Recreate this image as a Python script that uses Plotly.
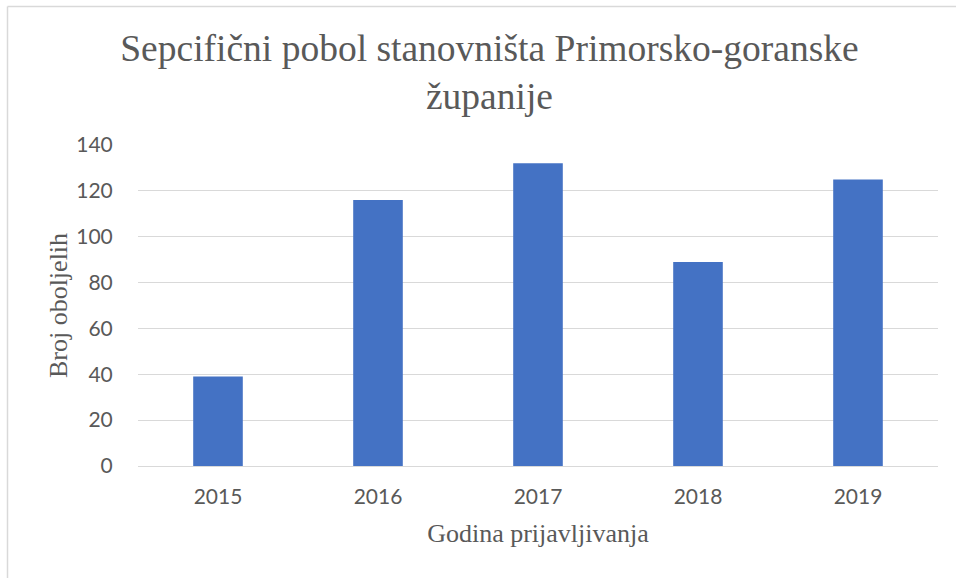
import plotly.graph_objects as go

years = ["2015", "2016", "2017", "2018", "2019"]
cases = [39, 116, 132, 89, 125]
y_ticks = [0, 20, 40, 60, 80, 100, 120, 140]

title_text = "Sepcifični pobol stanovništa Primorsko-goranske<br>županije"
x_title = "Godina prijavljivanja"
y_title = "Broj oboljelih"

fig = go.Figure()
fig.add_trace(go.Bar(x=years, y=cases, marker=dict(color="#4472C4", line=dict(width=0)),
                     hoverinfo="x+y"))

W, H = 956, 578
L, R, T, B = 138, 18, 145, 112

fig.update_layout(
    width=W, height=H,
    margin=dict(l=L, r=R, t=T, b=B),
    paper_bgcolor="white", plot_bgcolor="white",
    bargap=0.69,
    showlegend=False,
    title=dict(text=title_text, x=0.512, xanchor="center", y=0.895, yanchor="top",
               yref="container",
               font=dict(family="Liberation Serif", size=37.5, color="#595959")),
    xaxis=dict(
        title=dict(text=x_title, font=dict(family="Liberation Serif", size=26, color="#595959"),
                   standoff=16),
        tickfont=dict(family="Lato", size=21, color="#595959"),
        showgrid=False, showline=False, zeroline=False,
        ticks="outside", ticklen=12, tickcolor="rgba(0,0,0,0)",
    ),
    yaxis=dict(
        title=dict(text=y_title, font=dict(family="Liberation Serif", size=26, color="#595959"),
                   standoff=1),
        range=[0, 140], tickvals=y_ticks,
        tickfont=dict(family="Lato", size=21, color="#595959"),
        showgrid=True, gridcolor="#D9D9D9", gridwidth=1.3,
        zeroline=True, zerolinecolor="#D9D9D9", zerolinewidth=1.3,
        showline=False,
        ticks="outside", ticklen=20, tickcolor="rgba(0,0,0,0)",
    ),
)

# outer chart border (partial, as in the reference crop)
pw = W - L - R
ph = H - T - B
def px_to_paper_x(px):
    return (px - L) / pw
def px_to_paper_y(py):
    return (H - B - py) / ph
fig.add_shape(type="line", xref="paper", yref="paper",
              x0=px_to_paper_x(7.5), x1=px_to_paper_x(7.5),
              y0=px_to_paper_y(6.5), y1=px_to_paper_y(600),
              line=dict(color="#D9D9D9", width=1.5))
fig.add_shape(type="line", xref="paper", yref="paper",
              x0=px_to_paper_x(7.5), x1=px_to_paper_x(1000),
              y0=px_to_paper_y(6.5), y1=px_to_paper_y(6.5),
              line=dict(color="#D9D9D9", width=1.5))

fig.write_html("out.html", config={"displayModeBar": False},
               post_script="document.body.style.margin='0';document.body.style.overflow='hidden';")
